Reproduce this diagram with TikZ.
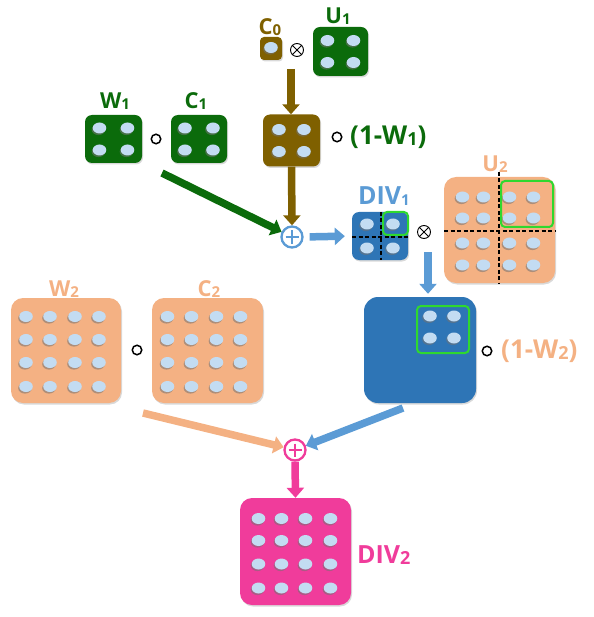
\documentclass[tikz,border=0pt]{standalone}
\usepackage{fontspec}
\setmainfont{Open Sans}
\usetikzlibrary{arrows.meta,shadows,calc}
\definecolor{dgreen}{HTML}{0B6B0B}
\definecolor{brownc}{HTML}{7F6000}
\definecolor{blued}{HTML}{2E75B6}
\definecolor{bluel}{HTML}{5B9BD5}
\definecolor{peach}{HTML}{F4B183}
\definecolor{pinkc}{HTML}{F03C9B}
\definecolor{hgreen}{HTML}{2FD82F}
\definecolor{dotc}{HTML}{C3DCF2}
\newcommand\lsub[2]{#1{\fontsize{15}{15}\selectfont\raisebox{-1.5pt}{#2}}}
\newcommand\lsubb[2]{#1{\fontsize{18}{18}\selectfont\raisebox{-1.5pt}{#2}}}
\newcommand\dotgrid[3]{%
  \begin{scope}[shift={(#1)}]
  \foreach \dx in {#2} \foreach \dy in {#3} {
    \fill[black!55, opacity=.55] ({\dx-1},{\dy+1.6}) ellipse (6.8 and 5.5);
    \fill[dotc] (\dx,\dy) ellipse (6.8 and 5.5);
  }
  \end{scope}}
\tikzset{
  box/.style={rounded corners=#1, inner sep=0pt, draw=none,
    drop shadow={opacity=.3, shadow xshift=1pt, shadow yshift=-1.5pt}},
  box/.default=7pt,
  lab/.style={font=\fontsize{22}{22}\selectfont\bfseries, inner sep=0pt},
  biglab/.style={font=\fontsize{26}{26}\selectfont\bfseries, inner sep=0pt},
  divlab/.style={font=\fontsize{25}{25}\selectfont\bfseries, inner sep=0pt},
  hadamard/.style={circle, draw=black, line width=1.5pt, minimum size=9.5pt, inner sep=0pt},
  otimes/.style={circle, draw=black, line width=0.9pt, minimum size=13pt, inner sep=0pt},
  oplus/.style={circle, line width=2.3pt, minimum size=21pt, inner sep=0pt, fill=white},
  barrow/.style={line width=7.5pt, -{Triangle[width=17pt,length=10pt]}},
  hbox/.style={draw=hgreen, line width=2pt, rounded corners=4pt},
  dashl/.style={draw=black, line width=1.6pt, dash pattern=on 4pt off 2.5pt}
}
\begin{document}
\begin{tikzpicture}[x=1pt,y=-1pt]
\useasboundingbox (0,0) rectangle (593,617);

% ---- labels drawn first (partly hidden behind boxes)
\node[lab, text=brownc] (lc0) at (270,27) {\lsub{C}{0}};
\node[lab, text=dgreen] (lu1) at (338,16) {\lsub{U}{1}};
\node[lab, text=dgreen] (lw1) at (115,101) {\lsub{W}{1}};
\node[lab, text=dgreen] (lc1) at (196,101) {\lsub{C}{1}};
\node[divlab, text=bluel] (ldiv1) at (384,196) {\lsub{DIV}{1}};
\node[lab, text=peach] (lu2) at (495,164) {\lsub{U}{2}};
\node[lab, text=peach] (lw2) at (64,289) {\lsub{W}{2}};
\node[lab, text=peach] (lc2) at (209,289) {\lsub{C}{2}};

% ---- boxes
\node[box=4pt, fill=brownc, minimum width=22pt, minimum height=23pt] (c0) at (271,48.5) {};
\node[box, fill=dgreen, minimum width=55pt, minimum height=49pt] (u1) at (340.5,51.5) {};
\node[box, fill=brownc, minimum width=57pt, minimum height=52pt] (cu) at (291.5,140.5) {};
\node[box, fill=dgreen, minimum width=57pt, minimum height=48pt] (w1) at (113.5,139) {};
\node[box, fill=dgreen, minimum width=56pt, minimum height=48pt] (c1) at (199,139) {};
\node[box, fill=blued, minimum width=56pt, minimum height=48pt] (div1) at (380,236) {};
\node[box=12pt, fill=peach, minimum width=111pt, minimum height=106pt] (u2) at (499.5,230) {};
\node[box=14pt, fill=blued, minimum width=112pt, minimum height=106pt] (bigb) at (420,350) {};
\node[box=12pt, fill=peach, minimum width=110pt, minimum height=105pt] (w2) at (66,350.5) {};
\node[box=12pt, fill=peach, minimum width=111pt, minimum height=105pt] (c2) at (207.5,350.5) {};
\node[box=12pt, fill=pinkc, minimum width=111pt, minimum height=107pt] (div2) at (295.5,551.5) {};

% ---- dots
\dotgrid{c0}{0}{-1}
\dotgrid{u1}{-13,13}{-11,11}
\dotgrid{cu}{-12.5,12.5}{-11,11}
\dotgrid{w1}{-14,14}{-11,11}
\dotgrid{c1}{-14,14}{-11,11}
\dotgrid{div1}{-13,13}{-12,12}
\dotgrid{u2}{-37,-16,10,34}{-33,-12,13,35}
\dotgrid{w2}{-40,-16,9,33}{-34,-11,12,36}
\dotgrid{c2}{-40,-16,9,33}{-34,-11,12,36}
\dotgrid{div2}{-37,-14,10,35}{-33,-11,12.5,36.5}
\dotgrid{bigb}{10,34}{-34,-12}

% ---- highlights and dashed partitions
\draw[dashl] (381,212) -- (381,260);
\draw[dashl] (352,237) -- (408,237);
\draw[hbox] (383,212) rectangle (408,235);
\draw[dashl] (499,172) -- (499,284);
\draw[dashl] (444,231) -- (555,231);
\draw[hbox] (501,181) rectangle (553,227);
\draw[hbox] (417,306) rectangle (469,353);

% ---- operators
\node[otimes] (ot1) at (297,50) {};
\draw[line width=0.9pt] (ot1.north east) -- (ot1.south west) (ot1.north west) -- (ot1.south east);
\node[otimes] (ot2) at (424,232) {};
\draw[line width=0.9pt] (ot2.north east) -- (ot2.south west) (ot2.north west) -- (ot2.south east);
\node[hadamard] (h1) at (156,139) {};
\node[hadamard] (h2) at (337,137) {};
\node[hadamard] (h3) at (137,350) {};
\node[hadamard] (h4) at (487,351) {};
\node[biglab, text=dgreen, anchor=west] (l1w1) at (350,137) {(1-\lsubb{W}{1})};
\node[biglab, text=peach, anchor=west] (l1w2) at (501,351) {(1-\lsubb{W}{2})};
\node[divlab, text=pinkc, anchor=west] (ldiv2) at (357,555) {\lsubb{DIV}{2}};

\node[oplus, draw=bluel] (p1) at (292,237) {};
\draw[bluel, line width=2.3pt] ($(p1)+(-6.5,0)$) -- ($(p1)+(6.5,0)$) ($(p1)+(0,-6.5)$) -- ($(p1)+(0,6.5)$);
\node[oplus, draw=pinkc] (p2) at (295,450) {};
\draw[pinkc, line width=2.3pt] ($(p2)+(-6.5,0)$) -- ($(p2)+(6.5,0)$) ($(p2)+(0,-6.5)$) -- ($(p2)+(0,6.5)$);

% ---- arrows
\coordinate (a1) at (291,69);
\draw[barrow, brownc] (a1) -- (a1 |- cu.north);
\draw[barrow, brownc] (cu.south) -- (p1.north);
\coordinate (g1) at (162,173);
\draw[barrow, dgreen] (g1) -- (p1);
\draw[barrow, bluel, shorten <=6pt, shorten >=7pt] (p1.east) -- (div1.west);
\coordinate (b1) at (428,252);
\draw[barrow, bluel] (b1) -- ($(b1 |- bigb.north)+(0,-3)$);
\coordinate (pe) at (143,413);
\draw[barrow, peach] (pe) -- (p2);
\coordinate (bl) at (403,408);
\draw[barrow, bluel] (bl) -- (p2);
\draw[barrow, pinkc] (p2.south) -- (div2.north);
\end{tikzpicture}
\end{document}
